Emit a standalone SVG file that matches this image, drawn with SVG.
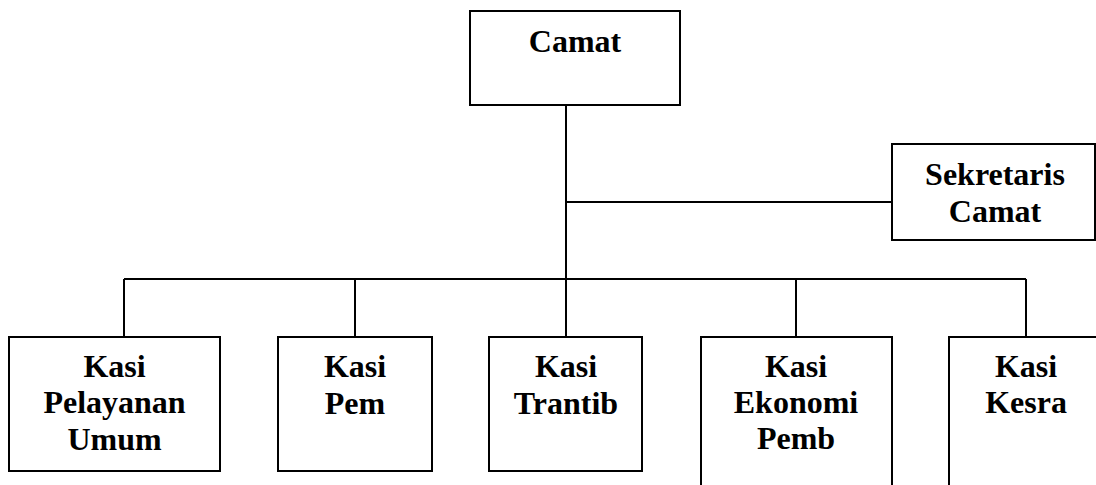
<svg xmlns="http://www.w3.org/2000/svg" width="1096" height="485" viewBox="0 0 1096 485">
<style>
.box{fill:#fff;stroke:#000;stroke-width:2}
.lbl{font-family:"Liberation Serif","Times New Roman",serif;font-weight:bold;font-size:32px;fill:#000;text-anchor:middle}
.con{fill:none;stroke:#000;stroke-width:2}
</style>
<rect width="1096" height="485" fill="#fff"/>
<g id="connectors">
<line class="con" x1="566" y1="105" x2="566" y2="336"/>
<line class="con" x1="566" y1="202" x2="892" y2="202"/>
<line class="con" x1="124" y1="279" x2="1026" y2="279"/>
<line class="con" x1="124" y1="279" x2="124" y2="337"/>
<line class="con" x1="355" y1="279" x2="355" y2="337"/>
<line class="con" x1="796" y1="279" x2="796" y2="337"/>
<line class="con" x1="1026" y1="279" x2="1026" y2="337"/>
</g>
<g id="camat">
<rect class="box" x="470" y="11" width="210" height="94"/>
<text class="lbl" x="575" y="52">Camat</text>
</g>
<g id="sekretaris">
<rect class="box" x="892" y="144" width="203" height="96"/>
<text class="lbl" x="995" y="185">Sekretaris</text>
<text class="lbl" x="995" y="222">Camat</text>
</g>
<g id="pelayanan">
<rect class="box" x="9" y="337" width="211" height="134"/>
<text class="lbl" x="114.5" y="377">Kasi</text>
<text class="lbl" x="114.5" y="413">Pelayanan</text>
<text class="lbl" x="114.5" y="450">Umum</text>
</g>
<g id="pem">
<rect class="box" x="278" y="337" width="154" height="134"/>
<text class="lbl" x="355" y="377">Kasi</text>
<text class="lbl" x="355" y="414">Pem</text>
</g>
<g id="trantib">
<rect class="box" x="489" y="337" width="153" height="134"/>
<text class="lbl" x="566" y="377">Kasi</text>
<text class="lbl" x="566" y="414">Trantib</text>
</g>
<g id="ekonomi">
<rect class="box" x="701" y="337" width="191" height="160"/>
<text class="lbl" x="796" y="377">Kasi</text>
<text class="lbl" x="796" y="413">Ekonomi</text>
<text class="lbl" x="796" y="449">Pemb</text>
</g>
<g id="kesra">
<rect class="box" x="949" y="337" width="160" height="160"/>
<text class="lbl" x="1026" y="377">Kasi</text>
<text class="lbl" x="1026" y="413">Kesra</text>
</g>
</svg>
